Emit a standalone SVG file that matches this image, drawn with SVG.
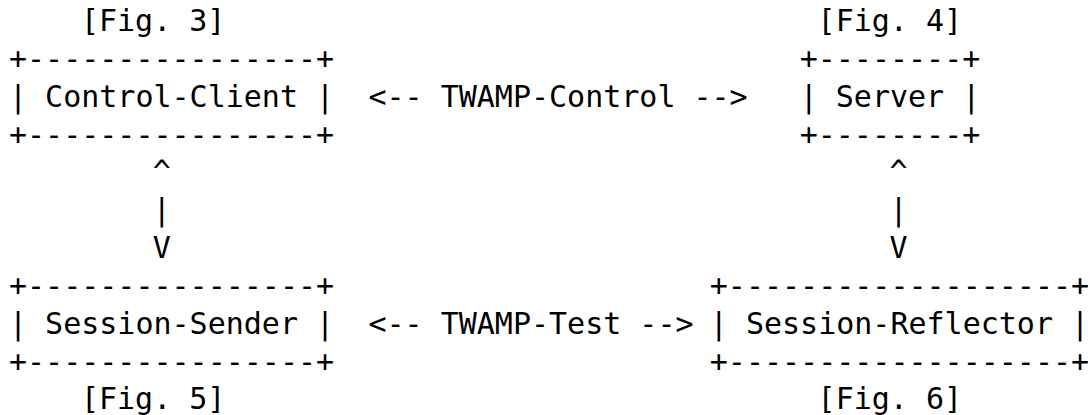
<svg xmlns="http://www.w3.org/2000/svg" width="1090" height="415" viewBox="0 0 1090 415" xml:space="preserve">
<style>
text { font-family: "DejaVu Sans Mono", "Liberation Mono", monospace; font-size: 30px; fill: #000; white-space: pre; }
</style>
<rect width="1090" height="415" fill="#fff"/>
<g id="control-client">
<text x="80.9" y="31">[Fig. 3]</text>
<text x="9" y="68.8">+----------------+</text>
<text x="9" y="106.7">| Control-Client |</text>
<text x="9" y="144.5">+----------------+</text>
</g>
<g id="server">
<text x="817.6" y="31">[Fig. 4]</text>
<text x="799.7" y="68.8">+--------+</text>
<text x="799.7" y="106.7">| Server |</text>
<text x="799.7" y="144.5">+--------+</text>
</g>
<g id="session-sender">
<text x="9" y="296">+----------------+</text>
<text x="9" y="333.9">| Session-Sender |</text>
<text x="9" y="371.7">+----------------+</text>
<text x="80.9" y="409.4">[Fig. 5]</text>
</g>
<g id="session-reflector">
<text x="709.8" y="296">+-------------------+</text>
<text x="709.8" y="333.9">| Session-Reflector |</text>
<text x="709.8" y="371.7">+-------------------+</text>
<text x="817.6" y="409.4">[Fig. 6]</text>
</g>
<g id="connectors">
<text x="368.4" y="106.7">&lt;-- TWAMP-Control --&gt;</text>
<text x="368.4" y="333.9">&lt;-- TWAMP-Test --&gt;</text>
<text x="152.8" y="182.4">^</text>
<text x="152.8" y="220.2">|</text>
<text x="152.8" y="258.1">V</text>
<text x="889.5" y="182.4">^</text>
<text x="889.5" y="220.2">|</text>
<text x="889.5" y="258.1">V</text>
</g>
</svg>
